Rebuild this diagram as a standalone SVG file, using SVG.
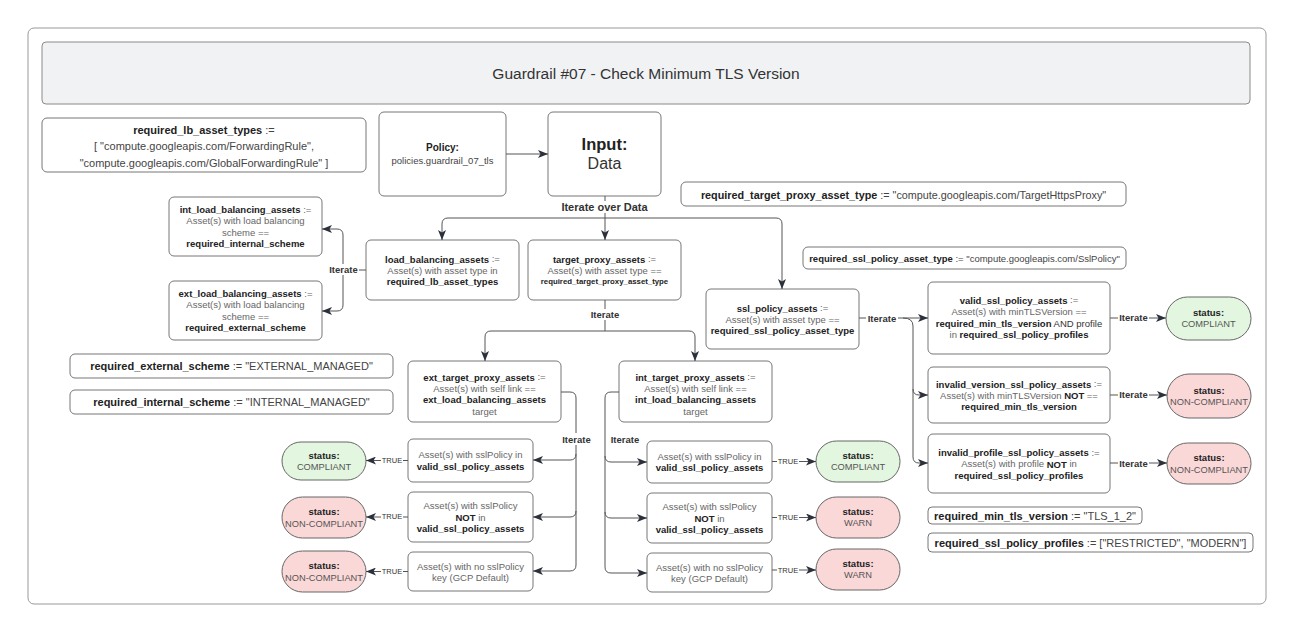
<svg xmlns="http://www.w3.org/2000/svg" width="1294" height="633" viewBox="0 0 1294 633">
<defs>
<style>
text{font-family:"Liberation Sans",Arial,sans-serif;text-anchor:middle;dominant-baseline:central;fill:#666;font-size:9.5px}
.b{font-weight:bold;fill:#222}
.box{fill:#fff;stroke:#777;stroke-width:1}
.ok{fill:#e3f6df;stroke:#666;stroke-width:1}
.bad{fill:#fbd8d8;stroke:#666;stroke-width:1}
.var{font-size:11px;fill:#444}
.st{font-size:9.3px;fill:#555}
.conn path{fill:none;stroke:#555;stroke-width:1}
.lbl{font-size:9.5px;font-weight:bold;fill:#333}
.tl{font-size:7.5px;fill:#333}
.bg{fill:#fff}
</style>
<marker id="ah" viewBox="0 0 10 8" refX="10" refY="4" markerWidth="10" markerHeight="8" orient="auto" markerUnits="userSpaceOnUse">
<path d="M0,0 L10,4 L0,8 L2.5,4 Z" fill="#2b303b"/>
</marker>
</defs>
<rect x="0" y="0" width="1294" height="633" fill="#fff"/>
<rect x="28" y="28" width="1238" height="576" rx="6" fill="#fff" stroke="#999" stroke-width="1"/>

<g id="title">
<rect x="42" y="42" width="1208" height="62" rx="4" fill="#f1f2f4" stroke="#8a8a8a"/>
<text x="646" y="73" style="font-size:15.5px;fill:#333">Guardrail #07 - Check Minimum TLS Version</text>
</g>

<g id="required_lb_asset_types">
<rect class="box" x="42" y="118" width="324" height="54" rx="5"/>
<text class="var" x="204" y="129.5"><tspan class="b">required_lb_asset_types</tspan> :=</text>
<text class="var" x="204" y="146">[ "compute.googleapis.com/ForwardingRule",</text>
<text class="var" x="204" y="162.5">"compute.googleapis.com/GlobalForwardingRule" ]</text>
</g>

<g id="policy">
<rect class="box" x="379" y="112" width="127" height="84" rx="5"/>
<text class="b" x="442.5" y="147" style="font-size:10px">Policy:</text>
<text x="442.5" y="160" style="font-size:9.5px;fill:#444">policies.guardrail_07_tls</text>
</g>

<g id="input">
<rect class="box" x="548" y="112" width="113" height="84" rx="5"/>
<text class="b" x="604.5" y="144" style="font-size:16.5px">Input:</text>
<text x="604.5" y="163" style="font-size:16px;fill:#333">Data</text>
</g>

<g id="required_target_proxy_asset_type">
<rect class="box" x="681" y="182" width="445" height="24" rx="5"/>
<text class="var" x="903.5" y="195" style="font-size:10.8px"><tspan class="b">required_target_proxy_asset_type</tspan> := "compute.googleapis.com/TargetHttpsProxy"</text>
</g>

<g id="int_load_balancing_assets">
<rect class="box" x="169" y="197" width="153" height="59" rx="5"/>
<text x="245.5" y="209.25"><tspan class="b">int_load_balancing_assets</tspan> :=</text>
<text x="245.5" y="220.75">Asset(s) with load balancing</text>
<text x="245.5" y="232.25">scheme ==</text>
<text class="b" x="245.5" y="243.75">required_internal_scheme</text>
</g>

<g id="ext_load_balancing_assets">
<rect class="box" x="169" y="281" width="153" height="59" rx="5"/>
<text x="245.5" y="293.25"><tspan class="b">ext_load_balancing_assets</tspan> :=</text>
<text x="245.5" y="304.75">Asset(s) with load balancing</text>
<text x="245.5" y="316.25">scheme ==</text>
<text class="b" x="245.5" y="327.75">required_external_scheme</text>
</g>

<g id="load_balancing_assets">
<rect class="box" x="366" y="240" width="153" height="60" rx="5"/>
<text x="442.5" y="258.5"><tspan class="b">load_balancing_assets</tspan> :=</text>
<text x="442.5" y="270">Asset(s) with asset type in</text>
<text class="b" x="442.5" y="281.5">required_lb_asset_types</text>
</g>

<g id="target_proxy_assets">
<rect class="box" x="528" y="240" width="153" height="60" rx="5"/>
<text x="604.5" y="258.5"><tspan class="b">target_proxy_assets</tspan> :=</text>
<text x="604.5" y="270">Asset(s) with asset type ==</text>
<text class="b" x="604.5" y="281.5" style="font-size:7.8px">required_target_proxy_asset_type</text>
</g>

<g id="required_ssl_policy_asset_type">
<rect class="box" x="803" y="247" width="323" height="22" rx="5"/>
<text class="var" x="964.5" y="258" style="font-size:9.5px"><tspan class="b">required_ssl_policy_asset_type</tspan> := "compute.googleapis.com/SslPolicy"</text>
</g>

<g id="ssl_policy_assets">
<rect class="box" x="706" y="289" width="153" height="60" rx="5"/>
<text x="782.5" y="307.5"><tspan class="b">ssl_policy_assets</tspan> :=</text>
<text x="782.5" y="319">Asset(s) with asset type ==</text>
<text class="b" x="782.5" y="330.5">required_ssl_policy_asset_type</text>
</g>

<g id="valid_ssl_policy_assets">
<rect class="box" x="928" y="282" width="182" height="72" rx="5"/>
<text x="1019" y="299.5"><tspan class="b">valid_ssl_policy_assets</tspan> :=</text>
<text x="1019" y="311">Asset(s) with minTLSVersion ==</text>
<text x="1019" y="322.5"><tspan class="b">required_min_tls_version</tspan> <tspan fill="#333">AND profile</tspan></text>
<text x="1019" y="334">in <tspan class="b">required_ssl_policy_profiles</tspan></text>
</g>

<g id="status_valid_compliant">
<rect class="ok" x="1166" y="297" width="85" height="43" rx="21.5"/>
<text class="b" x="1208.5" y="312.5">status:</text>
<text class="st" x="1208.5" y="324">COMPLIANT</text>
</g>

<g id="invalid_version_ssl_policy_assets">
<rect class="box" x="928" y="367" width="182" height="56" rx="5"/>
<text x="1019" y="383.5"><tspan class="b">invalid_version_ssl_policy_assets</tspan> :=</text>
<text x="1019" y="395">Asset(s) with minTLSVersion <tspan class="b">NOT</tspan> ==</text>
<text class="b" x="1019" y="406.5">required_min_tls_version</text>
</g>

<g id="status_invalid_version">
<rect class="bad" x="1167" y="374" width="84" height="44" rx="22"/>
<text class="b" x="1209" y="390">status:</text>
<text class="st" x="1209" y="402">NON-COMPLIANT</text>
</g>

<g id="invalid_profile_ssl_policy_assets">
<rect class="box" x="928" y="434" width="182" height="59" rx="5"/>
<text x="1019" y="452"><tspan class="b">invalid_profile_ssl_policy_assets</tspan> :=</text>
<text x="1019" y="463.5">Asset(s) with profile <tspan class="b">NOT</tspan> in</text>
<text class="b" x="1019" y="475">required_ssl_policy_profiles</text>
</g>

<g id="status_invalid_profile">
<rect class="bad" x="1167" y="443" width="84" height="41" rx="20.5"/>
<text class="b" x="1209" y="457.5">status:</text>
<text class="st" x="1209" y="469.5">NON-COMPLIANT</text>
</g>

<g id="required_min_tls_version">
<rect class="box" x="928" y="507" width="214" height="17" rx="4"/>
<text class="var" x="1035" y="515.5"><tspan class="b">required_min_tls_version</tspan> := "TLS_1_2"</text>
</g>

<g id="required_ssl_policy_profiles">
<rect class="box" x="928" y="533" width="325" height="19" rx="4"/>
<text class="var" x="1090.5" y="542.5"><tspan class="b">required_ssl_policy_profiles</tspan> := ["RESTRICTED", "MODERN"]</text>
</g>

<g id="required_external_scheme">
<rect class="box" x="70" y="354" width="323" height="24" rx="5"/>
<text class="var" x="231.5" y="366"><tspan class="b">required_external_scheme</tspan> := "EXTERNAL_MANAGED"</text>
</g>

<g id="required_internal_scheme">
<rect class="box" x="70" y="390" width="323" height="24" rx="5"/>
<text class="var" x="231.5" y="402"><tspan class="b">required_internal_scheme</tspan> := "INTERNAL_MANAGED"</text>
</g>

<g id="ext_target_proxy_assets">
<rect class="box" x="408" y="361" width="153" height="61" rx="5"/>
<text x="484.5" y="376.5"><tspan class="b">ext_target_proxy_assets</tspan> :=</text>
<text x="484.5" y="388">Asset(s) with self link ==</text>
<text class="b" x="484.5" y="399.5">ext_load_balancing_assets</text>
<text x="484.5" y="411">target</text>
</g>

<g id="int_target_proxy_assets">
<rect class="box" x="619" y="361" width="153" height="61" rx="5"/>
<text x="695.5" y="376.5"><tspan class="b">int_target_proxy_assets</tspan> :=</text>
<text x="695.5" y="388">Asset(s) with self link ==</text>
<text class="b" x="695.5" y="399.5">int_load_balancing_assets</text>
<text x="695.5" y="411">target</text>
</g>

<g id="ext_valid_check">
<rect class="box" x="408" y="439" width="125" height="43" rx="5"/>
<text x="470.5" y="454.5">Asset(s) with sslPolicy in</text>
<text class="b" x="470.5" y="466">valid_ssl_policy_assets</text>
</g>
<g id="ext_not_valid_check">
<rect class="box" x="408" y="492" width="125" height="50" rx="5"/>
<text x="470.5" y="505.5">Asset(s) with sslPolicy</text>
<text x="470.5" y="517"><tspan class="b">NOT</tspan> in</text>
<text class="b" x="470.5" y="528.5">valid_ssl_policy_assets</text>
</g>
<g id="ext_no_policy_check">
<rect class="box" x="408" y="552" width="125" height="39" rx="5"/>
<text x="470.5" y="566">Asset(s) with no sslPolicy</text>
<text x="470.5" y="577.5">key (GCP Default)</text>
</g>

<g id="ext_status_compliant">
<rect class="ok" x="282" y="442" width="84" height="38" rx="19"/>
<text class="b" x="324" y="455">status:</text>
<text class="st" x="324" y="466.5">COMPLIANT</text>
</g>
<g id="ext_status_noncompliant_1">
<rect class="bad" x="282" y="497" width="84" height="41" rx="20.5"/>
<text class="b" x="324" y="511.5">status:</text>
<text class="st" x="324" y="523.5">NON-COMPLIANT</text>
</g>
<g id="ext_status_noncompliant_2">
<rect class="bad" x="282" y="551" width="84" height="41" rx="20.5"/>
<text class="b" x="324" y="565.5">status:</text>
<text class="st" x="324" y="577.5">NON-COMPLIANT</text>
</g>

<g id="int_valid_check">
<rect class="box" x="647" y="441" width="125" height="42" rx="5"/>
<text x="709.5" y="456">Asset(s) with sslPolicy in</text>
<text class="b" x="709.5" y="467.5">valid_ssl_policy_assets</text>
</g>
<g id="int_not_valid_check">
<rect class="box" x="647" y="493" width="125" height="50" rx="5"/>
<text x="709.5" y="506.5">Asset(s) with sslPolicy</text>
<text x="709.5" y="518"><tspan class="b">NOT</tspan> in</text>
<text class="b" x="709.5" y="529.5">valid_ssl_policy_assets</text>
</g>
<g id="int_no_policy_check">
<rect class="box" x="647" y="553" width="125" height="39" rx="5"/>
<text x="709.5" y="567">Asset(s) with no sslPolicy</text>
<text x="709.5" y="578.5">key (GCP Default)</text>
</g>

<g id="int_status_compliant">
<rect class="ok" x="816" y="441" width="84" height="41" rx="20.5"/>
<text class="b" x="858" y="455.5">status:</text>
<text class="st" x="858" y="467">COMPLIANT</text>
</g>
<g id="int_status_warn_1">
<rect class="bad" x="816" y="497" width="84" height="41" rx="20.5"/>
<text class="b" x="858" y="511.5">status:</text>
<text class="st" x="858" y="523">WARN</text>
</g>
<g id="int_status_warn_2">
<rect class="bad" x="816" y="549" width="84" height="41" rx="20.5"/>
<text class="b" x="858" y="563.5">status:</text>
<text class="st" x="858" y="575">WARN</text>
</g>

<g id="connectors" class="conn">
<path d="M506,154 H548" marker-end="url(#ah)"/>
<path d="M605,196 V218"/>
<path d="M605,218 H448 Q442,218 442,224 V240" marker-end="url(#ah)"/>
<path d="M605,218 V240" marker-end="url(#ah)"/>
<path d="M605,218 H776 Q782,218 782,224 V289" marker-end="url(#ah)"/>
<rect class="bg" x="562" y="201" width="86" height="12"/>
<text class="lbl" x="604.5" y="207" style="font-size:11px">Iterate over Data</text>

<path d="M366,270 H343"/>
<path d="M343,270 V235 Q343,229 337,229 H322" marker-end="url(#ah)"/>
<path d="M343,270 V305 Q343,311 337,311 H322" marker-end="url(#ah)"/>
<rect class="bg" x="328" y="264" width="31" height="11"/>
<text class="lbl" x="343.5" y="269.5">Iterate</text>

<path d="M605,300 V331"/>
<path d="M605,331 H491 Q485,331 485,337 V361" marker-end="url(#ah)"/>
<path d="M605,331 H689 Q695,331 695,337 V361" marker-end="url(#ah)"/>
<rect class="bg" x="590" y="309" width="31" height="11"/>
<text class="lbl" x="605" y="314">Iterate</text>

<path d="M859,318 H928" marker-end="url(#ah)"/>
<path d="M903,318 Q913,318 913,326 V457 Q913,463 919,463 H928" marker-end="url(#ah)"/>
<path d="M913,389 Q913,395 919,395 H928" marker-end="url(#ah)"/>
<rect class="bg" x="866" y="313" width="32" height="11"/>
<text class="lbl" x="882" y="318">Iterate</text>

<path d="M1110,318 H1166" marker-end="url(#ah)"/>
<rect class="bg" x="1118" y="313" width="31" height="11"/>
<text class="lbl" x="1133.5" y="317.5">Iterate</text>
<path d="M1110,395 H1167" marker-end="url(#ah)"/>
<rect class="bg" x="1118" y="389" width="31" height="11"/>
<text class="lbl" x="1133.5" y="394">Iterate</text>
<path d="M1110,463 H1167" marker-end="url(#ah)"/>
<rect class="bg" x="1118" y="458" width="31" height="11"/>
<text class="lbl" x="1133.5" y="463">Iterate</text>

<path d="M561,392 H570 Q576,392 576,398 V565 Q576,571 570,571 H533" marker-end="url(#ah)"/>
<path d="M576,454 Q576,460 570,460 H533" marker-end="url(#ah)"/>
<path d="M576,511 Q576,517 570,517 H533" marker-end="url(#ah)"/>
<rect class="bg" x="561" y="433" width="31" height="12"/>
<text class="lbl" x="576.5" y="439">Iterate</text>

<path d="M619,392 H611 Q605,392 605,398 V567 Q605,573 611,573 H647" marker-end="url(#ah)"/>
<path d="M605,456 Q605,462 611,462 H647" marker-end="url(#ah)"/>
<path d="M605,512 Q605,518 611,518 H647" marker-end="url(#ah)"/>
<text class="lbl" x="625" y="439">Iterate</text>

<path d="M408,460.5 H366" marker-end="url(#ah)"/>
<path d="M408,517 H366" marker-end="url(#ah)"/>
<path d="M408,571.5 H366" marker-end="url(#ah)"/>
<rect class="bg" x="381" y="455" width="22" height="10"/>
<text class="tl" x="392" y="460">TRUE</text>
<rect class="bg" x="381" y="512" width="22" height="10"/>
<text class="tl" x="392" y="516.5">TRUE</text>
<rect class="bg" x="381" y="566" width="22" height="10"/>
<text class="tl" x="392" y="571">TRUE</text>

<path d="M772,461.5 H816" marker-end="url(#ah)"/>
<path d="M772,517.5 H816" marker-end="url(#ah)"/>
<path d="M772,570 H816" marker-end="url(#ah)"/>
<rect class="bg" x="777" y="456" width="22" height="10"/>
<text class="tl" x="788" y="461">TRUE</text>
<rect class="bg" x="777" y="512" width="22" height="10"/>
<text class="tl" x="788" y="517">TRUE</text>
<rect class="bg" x="777" y="565" width="22" height="10"/>
<text class="tl" x="788" y="570">TRUE</text>
</g>
</svg>
